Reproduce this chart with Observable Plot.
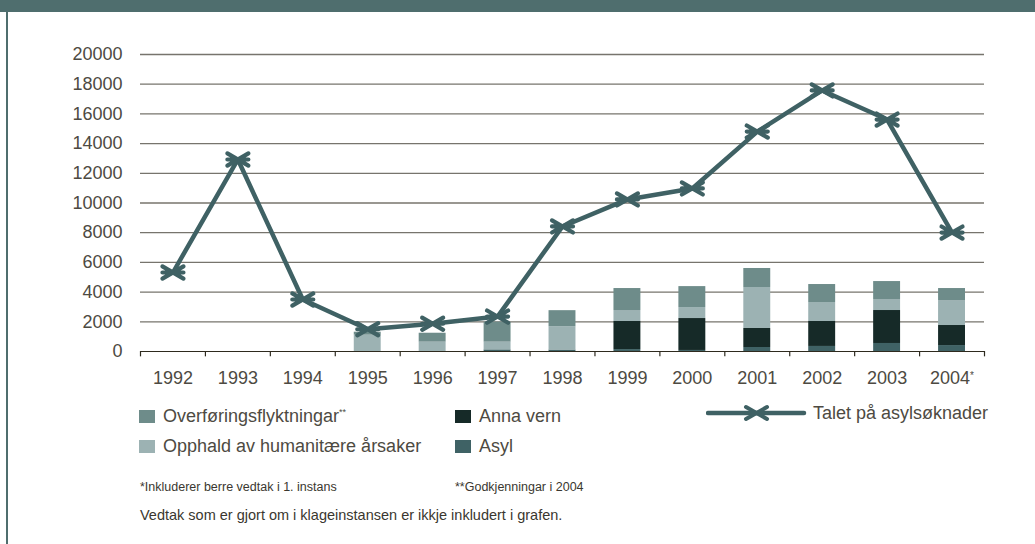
<!DOCTYPE html>
<html><head><meta charset="utf-8">
<script src="https://cdn.jsdelivr.net/npm/d3@7"></script>
<script src="https://cdn.jsdelivr.net/npm/@observablehq/plot@0.6"></script>
<style>
body{margin:0;background:#fff;font-family:"Liberation Sans",Arial,sans-serif;}
#wrap{position:relative;width:1035px;height:544px;overflow:hidden;background:#fff;}
.band{position:absolute;left:0;top:0;width:1035px;height:12px;background:#4f6e6e;}
.border{position:absolute;left:6px;top:12px;width:2px;height:532px;background:#4f6e6e;}
#chart{position:absolute;left:0;top:0;}
.leg{position:absolute;display:flex;align-items:center;height:20px;font-size:18px;color:#4d4a42;white-space:nowrap;}
.sw{width:16px;height:13px;margin-right:8px;flex:none;}
.leg sup{font-size:9px;vertical-align:7px;}
.note{position:absolute;font-size:12.5px;color:#3a372f;white-space:nowrap;line-height:14px;}
</style>
</head><body>
<div id="wrap">
  <div class="band"></div>
  <div class="border"></div>
  <div id="chart"></div>
  <div id="legend"></div>
  <div class="note" style="left:140px;top:480px">*Inkluderer berre vedtak i 1. instans</div>
  <div class="note" style="left:455px;top:480px">**Godkjenningar i 2004</div>
  <div class="note" style="left:140px;top:508px;font-size:14.5px">Vedtak som er gjort om i klageinstansen er ikkje inkludert i grafen.</div>
</div>
<script>
const years = ["1992","1993","1994","1995","1996","1997","1998","1999","2000","2001","2002","2003","2004"];
const asyl       = [0,0,0,0,0,110,100,130,70,270,340,540,400];
const annaVern   = [0,0,0,0,0,0,0,1890,2150,1280,1680,2220,1350];
const opphald    = [0,0,0,1100,630,520,1570,740,740,2760,1280,740,1680];
const overforing = [0,0,0,200,600,1350,1080,1480,1410,1280,1210,1210,810];
const soknader   = [5320,12930,3500,1500,1870,2350,8420,10240,10980,14810,17580,15620,8010];
const yTicks = [0,2000,4000,6000,8000,10000,12000,14000,16000,18000,20000];

const seriesNames = ["Asyl","Anna vern","Opphald av humanitære årsaker","Overføringsflyktningar"];
const seriesColors = ["#3f6265","#162a28","#9cb2b3","#6e8c8a"];
const lineName = "Talet på asylsøknader";
const lineColor = "#3f6164";

const seriesValues = [asyl, annaVern, opphald, overforing];
const barData = seriesNames.flatMap((name, k) =>
  years.map((year, i) => ({year, serie: name, value: seriesValues[k][i]})));
const lineData = years.map((year, i) => ({year, value: soknader[i]}));

const W = 1035, ML = 140, MR = 51;
const bw = (W - ML - MR) / years.length;

const crossSym = {
  draw(ctx, size) {
    const w = Math.sqrt(size / Math.PI), h = w * 0.58;
    ctx.moveTo(-w, -h); ctx.lineTo(w, h);
    ctx.moveTo(-w, h); ctx.lineTo(w, -h);
    ctx.moveTo(-w, 0); ctx.lineTo(w, 0);
  }
};

const chart = Plot.plot({
  width: W, height: 395,
  marginLeft: ML, marginRight: MR, marginTop: 54, marginBottom: 44,
  style: {fontFamily: '"Liberation Sans", Arial, sans-serif', fontSize: "18px", color: "#4d4a42", background: "transparent"},
  x: {type: "band", domain: years, padding: 0, round: false},
  y: {domain: [0, 20000]},
  color: {domain: seriesNames, range: seriesColors},
  marks: [
    Plot.ruleY(yTicks.slice(1), {stroke: "#4a463c", strokeWidth: 1.3, strokeOpacity: 0.75}),
    Plot.barY(barData, {x: "year", y: "value", fill: "serie", order: seriesNames, insetLeft: 19, insetRight: 19}),
    Plot.ruleY([0], {stroke: "#2e2a1e", strokeWidth: 1.2}),
    Plot.ruleX(years, {x: d => d, dx: -bw / 2, y1: 0, y2: -360, stroke: "#2e2a1e", strokeWidth: 1.2}),
    Plot.ruleX(years.slice(-1), {x: d => d, dx: bw / 2, y1: 0, y2: -360, stroke: "#2e2a1e", strokeWidth: 1.2}),
    Plot.line(lineData, {x: "year", y: "value", stroke: lineColor, strokeWidth: 4.5, strokeLinejoin: "round"}),
    Plot.dot(lineData, {x: "year", y: "value", r: 10.5, symbol: crossSym, fill: "none", stroke: lineColor, strokeWidth: 4.2, strokeLinecap: "round"}),
    Plot.axisY(yTicks, {tickSize: 0, tickPadding: 18, label: null, tickFormat: d => String(d)}),
    Plot.axisX({tickSize: 0, tickPadding: 20, label: null})
  ]
});
document.getElementById("chart").appendChild(chart);

// superscript asterisk on 2004
d3.select(chart).selectAll("text").filter(function(){ return this.textContent === "2004"; })
  .append("tspan").attr("dy", "-0.55em").attr("font-size", "10px").text("*");

// legend
const legend = document.getElementById("legend");
const legItems = [
  {name: "Overføringsflyktningar", sup: "**", color: seriesColors[3], left: 139, top: 406},
  {name: "Opphald av humanitære årsaker", sup: "", color: seriesColors[2], left: 139, top: 436},
  {name: "Anna vern", sup: "", color: seriesColors[1], left: 455, top: 406},
  {name: "Asyl", sup: "", color: seriesColors[0], left: 455, top: 436}
];
for (const it of legItems) {
  const d = document.createElement("div");
  d.className = "leg";
  d.style.left = it.left + "px"; d.style.top = it.top + "px";
  d.innerHTML = `<span class="sw" style="background:${it.color}"></span><span>${it.name}${it.sup ? `<sup>${it.sup}</sup>` : ""}</span>`;
  legend.appendChild(d);
}
const ll = document.createElement("div");
ll.className = "leg";
ll.style.left = "706px"; ll.style.top = "403px";
ll.innerHTML = `<svg width="107" height="20" style="flex:none">
  <line x1="2" y1="10" x2="98" y2="10" stroke="${lineColor}" stroke-width="4.5" stroke-linecap="round"/>
  <path d="M40,4L61,16M40,16L61,4M40,10L61,10" stroke="${lineColor}" stroke-width="4" stroke-linecap="round" fill="none"/>
</svg><span>${lineName}</span>`;
legend.appendChild(ll);
</script>
</body></html>
